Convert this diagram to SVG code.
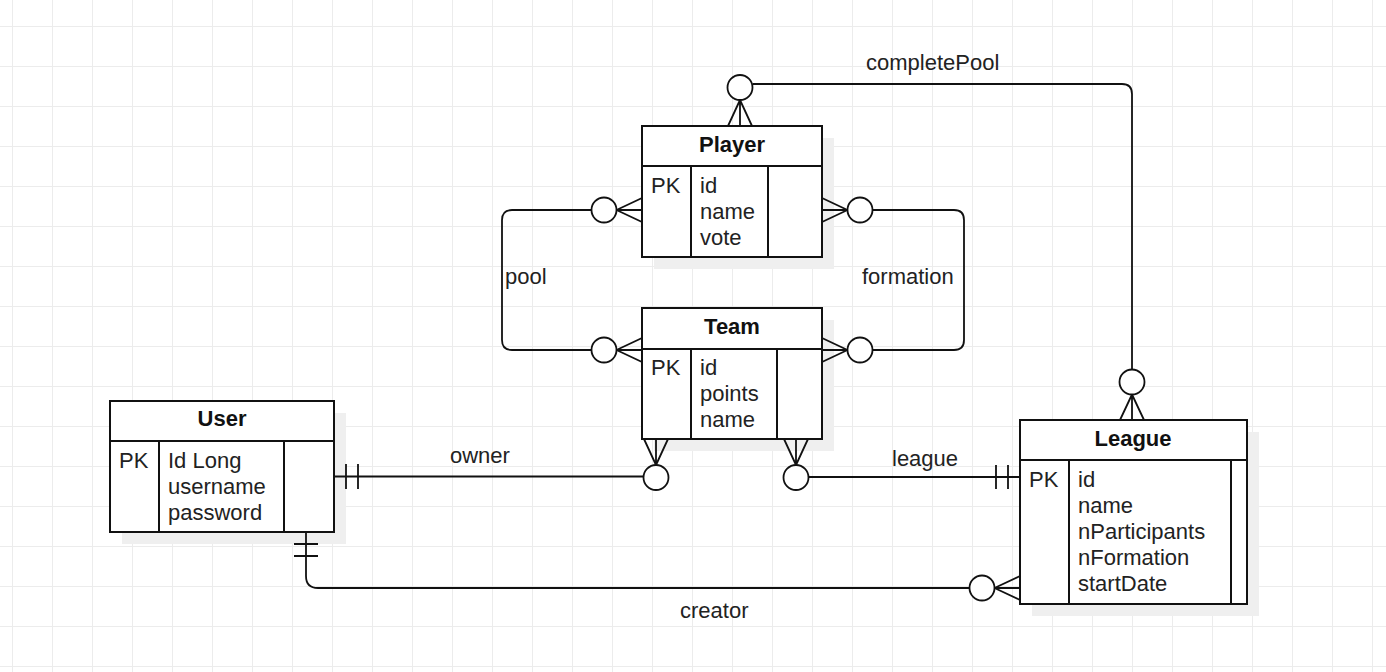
<svg xmlns="http://www.w3.org/2000/svg" width="1386" height="672" viewBox="0 0 1386 672">
<defs>
<pattern id="grid" x="12" y="26" width="40" height="40" patternUnits="userSpaceOnUse">
<path d="M0 0 H40 M0 0 V40" fill="none" stroke="#ececec" stroke-width="2"/>
</pattern>
</defs>
<style>
.box{fill:#ffffff;stroke:#111111;stroke-width:2}
.shadow{fill:#efefef;stroke:none}
.ln{fill:none;stroke:#111111;stroke-width:2}
.conn{fill:none;stroke:#111111;stroke-width:1.8}
.circ{fill:#ffffff;stroke:#111111;stroke-width:1.8}
.title{font-family:"Liberation Sans",Arial,sans-serif;font-size:22px;font-weight:bold;fill:#111111;text-anchor:middle}
.attr{font-family:"Liberation Sans",Arial,sans-serif;font-size:22px;fill:#222222}
.lbl{font-family:"Liberation Sans",Arial,sans-serif;font-size:22px;fill:#222222}
</style>
<rect width="1386" height="672" fill="#ffffff"/>
<rect width="1386" height="672" fill="url(#grid)"/>

<g id="player">
<rect class="shadow" x="654" y="138" width="180" height="131"/>
<rect class="box" x="642" y="126" width="180" height="131"/>
<path class="ln" d="M642 166 H822 M691 166 V257 M768 166 V257"/>
<text class="title" x="732" y="152">Player</text>
<text class="attr" x="651" y="193">PK</text>
<text class="attr" x="700" y="193">id</text>
<text class="attr" x="700" y="219">name</text>
<text class="attr" x="700" y="245">vote</text>
</g>

<g id="team">
<rect class="shadow" x="654" y="320" width="180" height="131"/>
<rect class="box" x="642" y="308" width="180" height="131"/>
<path class="ln" d="M642 349 H822 M691 349 V439 M777 349 V439"/>
<text class="title" x="732" y="334">Team</text>
<text class="attr" x="651" y="375">PK</text>
<text class="attr" x="700" y="375">id</text>
<text class="attr" x="700" y="401">points</text>
<text class="attr" x="700" y="427">name</text>
</g>

<g id="user">
<rect class="shadow" x="122" y="413" width="224" height="131"/>
<rect class="box" x="110" y="401" width="224" height="131"/>
<path class="ln" d="M110 441 H334 M159 441 V532 M284 441 V532"/>
<text class="title" x="222" y="426">User</text>
<text class="attr" x="119" y="468">PK</text>
<text class="attr" x="168" y="468">Id Long</text>
<text class="attr" x="168" y="494">username</text>
<text class="attr" x="168" y="520">password</text>
</g>

<g id="leagueEntity">
<rect class="shadow" x="1032" y="432" width="227" height="184"/>
<rect class="box" x="1020" y="420" width="227" height="184"/>
<path class="ln" d="M1020 460 H1247 M1069 460 V604 M1231 460 V604"/>
<text class="title" x="1133" y="446">League</text>
<text class="attr" x="1029" y="487">PK</text>
<text class="attr" x="1078" y="487">id</text>
<text class="attr" x="1078" y="513">name</text>
<text class="attr" x="1078" y="539">nParticipants</text>
<text class="attr" x="1078" y="565">nFormation</text>
<text class="attr" x="1078" y="591">startDate</text>
</g>

<g id="connectors">
<g id="completePool">
<path class="conn" d="M752.5 84 H1122 Q1132 84 1132 94 V369.5"/>
<circle class="circ" cx="740" cy="87.5" r="12.5"/>
<path class="conn" d="M740 100 L728 126 M740 100 V126 M740 100 L752 126"/>
<circle class="circ" cx="1132" cy="382" r="12.5"/>
<path class="conn" d="M1132 394.5 L1120 420 M1132 394.5 V420 M1132 394.5 L1144 420"/>
</g>
<g id="pool">
<path class="conn" d="M591.5 210 H512 Q502 210 502 220 V340 Q502 350 512 350 H591.5"/>
<circle class="circ" cx="604" cy="210" r="12.5"/>
<circle class="circ" cx="604" cy="350" r="12.5"/>
<path class="conn" d="M616.5 210 L642 198 M616.5 210 H642 M616.5 210 L642 222"/>
<path class="conn" d="M616.5 350 L642 338 M616.5 350 H642 M616.5 350 L642 362"/>
</g>
<g id="formation">
<path class="conn" d="M872.5 210 H954 Q964 210 964 220 V340 Q964 350 954 350 H872.5"/>
<circle class="circ" cx="860" cy="210" r="12.5"/>
<circle class="circ" cx="860" cy="350" r="12.5"/>
<path class="conn" d="M847.5 210 L822 198 M847.5 210 H822 M847.5 210 L822 222"/>
<path class="conn" d="M847.5 350 L822 338 M847.5 350 H822 M847.5 350 L822 362"/>
</g>
<g id="owner">
<path class="conn" d="M334 476.5 H643.5"/>
<path class="conn" d="M346 464 V489 M358 464 V489"/>
<circle class="circ" cx="656" cy="477.5" r="12.5"/>
<path class="conn" d="M656 465 L644 439 M656 465 V439 M656 465 L668 439"/>
</g>
<g id="league">
<path class="conn" d="M808.5 477 H1020"/>
<path class="conn" d="M996 465 V489 M1008 465 V489"/>
<circle class="circ" cx="796" cy="477.5" r="12.5"/>
<path class="conn" d="M796 465 L784 439 M796 465 V439 M796 465 L808 439"/>
</g>
<g id="creator">
<path class="conn" d="M306 532 V576 Q306 588 318 588 H969.5"/>
<path class="conn" d="M294 544 H318 M294 556 H318"/>
<circle class="circ" cx="982" cy="588" r="12.5"/>
<path class="conn" d="M994.5 588 L1020 576 M994.5 588 H1020 M994.5 588 L1020 600"/>
</g>
<text class="lbl" x="866" y="70">completePool</text>
<text class="lbl" x="505" y="284">pool</text>
<text class="lbl" x="862" y="284">formation</text>
<text class="lbl" x="450" y="463">owner</text>
<text class="lbl" x="892" y="466">league</text>
<text class="lbl" x="680" y="618">creator</text>
</g>
</svg>
